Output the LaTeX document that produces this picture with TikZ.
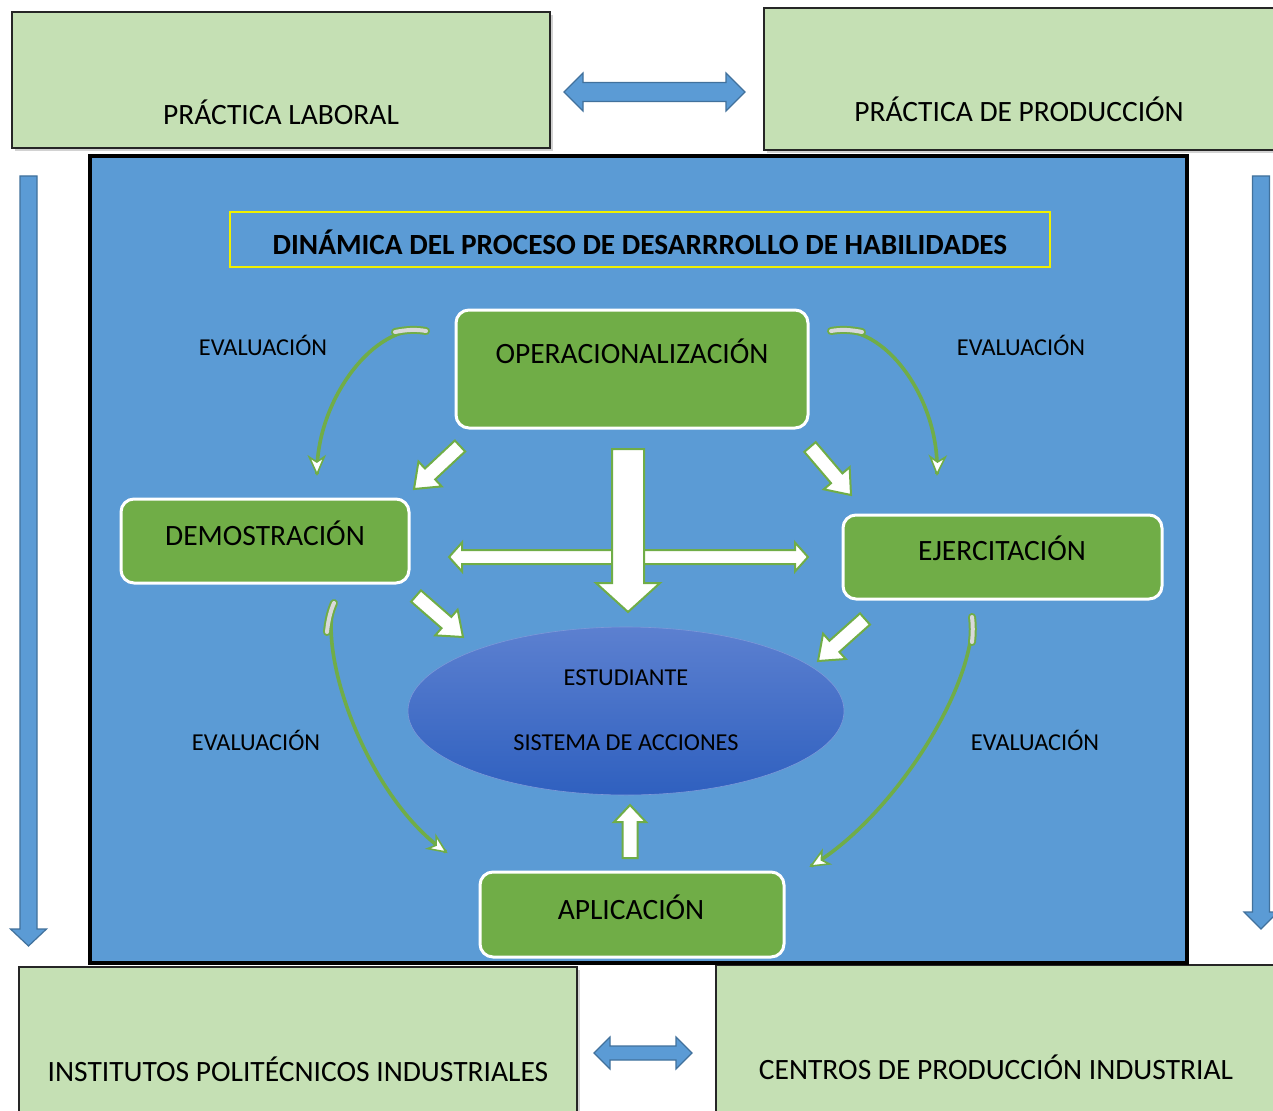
\documentclass[tikz,border=0pt]{standalone}
\usepackage{fontspec}
\setmainfont{Carlito}
\usetikzlibrary{calc,arrows.meta,shapes.geometric,shadows}
\definecolor{lgreen}{HTML}{C5E0B4}
\definecolor{mblue}{HTML}{5B9BD5}
\definecolor{dblue}{HTML}{41719C}
\definecolor{mgreen}{HTML}{70AD47}
\definecolor{ytitle}{HTML}{F0F000}
\definecolor{elltop}{HTML}{5C80D0}
\definecolor{ellbot}{HTML}{2F60BF}
\newcommand\fs[1]{\fontsize{#1}{#1}\selectfont}
\newcommand\blockarr[6]{%
 \path (#2) coordinate (ba) (#3) coordinate (bb);
 \path ($(bb)!#6!(ba)$) coordinate (bh);
 \draw[#1] ($(ba)!#4!90:(bb)$) -- ($(bh)!#4!-90:(ba)$) -- ($(bh)!#5!-90:(ba)$) -- (bb) -- ($(bh)!#5!90:(ba)$) -- ($(bh)!#4!90:(ba)$) -- ($(ba)!#4!-90:(bb)$) -- cycle;}
\newcommand\dblarr[6]{%
 \path (#2) coordinate (da) (#3) coordinate (db);
 \path ($(da)!#6!(db)$) coordinate (dha) ($(db)!#6!(da)$) coordinate (dhb);
 \draw[#1] (da) -- ($(dha)!#5!90:(db)$) -- ($(dha)!#4!90:(db)$) -- ($(dhb)!#4!-90:(da)$) -- ($(dhb)!#5!-90:(da)$) -- (db) -- ($(dhb)!#5!90:(da)$) -- ($(dhb)!#4!90:(da)$) -- ($(dha)!#4!-90:(db)$) -- ($(dha)!#5!-90:(db)$) -- cycle;}
\newcommand\curvhead[2]{%
 \path (#1) coordinate (ce) (#2) coordinate (cc);
 \path ($(ce)!17pt!(cc)$) coordinate (cb);
 \draw[fill=white, draw=mgreen, line width=1.6pt, line join=miter] (ce) -- ($(cb)!7.5pt!90:(ce)$) -- ($(cb)!5pt!(ce)$) -- ($(cb)!7.5pt!-90:(ce)$) -- cycle;}
\tikzset{
 outbox/.style={draw=black!85, line width=1.3pt, fill=lgreen, inner sep=0pt, drop shadow={shadow xshift=3pt, shadow yshift=-3pt, opacity=0.35}},
 gbox/.style={draw=white, line width=3pt, fill=mgreen, rounded corners=13pt, inner sep=0pt},
 bluearr/.style={fill=mblue, draw=dblue, line width=1.2pt, line join=miter},
 whitearr/.style={fill=white, draw=mgreen, line width=2pt, line join=miter},
 curvbody/.style={draw=mgreen, line width=3.6pt},
 curvtailout/.style={draw=mgreen, line width=8pt, line cap=round},
 curvtail/.style={draw=gray!30, line width=4pt, line cap=round},
 lbl/.style={text=black, font=\fs{29.5}, inner sep=0pt},
 evl/.style={text=black, font=\fs{24.3}, inner sep=0pt},
}
\begin{document}
\begin{tikzpicture}[x=1pt,y=-1pt]
\useasboundingbox (0,0) rectangle (1273,1110);
\fill[white] (0,0) rectangle (1273,1110);
\begin{scope}
\clip (0,0) rectangle (1273,1110);
% outer boxes
\node[outbox, minimum width=538, minimum height=136] (tl) at (281,80) {};
\node[outbox, minimum width=530, minimum height=142] (tr) at (1029,79) {};
\node[outbox, minimum width=558, minimum height=160] (bl) at (298,1047) {};
\node[outbox, minimum width=570, minimum height=162] (br) at (1001,1046) {};
\end{scope}
\node[lbl] (tlT) at (281,112) {PRÁCTICA LABORAL};
\node[lbl] (trT) at (1019,109) {PRÁCTICA DE PRODUCCIÓN};
\node[lbl] (blT) at (298,1069) {INSTITUTOS POLITÉCNICOS INDUSTRIALES};
\node[lbl] (brT) at (996,1067) {CENTROS DE PRODUCCIÓN INDUSTRIAL};
% connectors between outer boxes
\coordinate (tA) at (564,92); \coordinate (tB) at (745,92);
\dblarr{bluearr}{tA}{tB}{9.5pt}{19pt}{19pt}
\coordinate (bA) at (594,1053); \coordinate (bB) at (692,1053);
\dblarr{bluearr}{bA}{bB}{7pt}{16pt}{16pt}
\coordinate (lA) at (28.5,176); \coordinate (lB) at (28.5,946);
\blockarr{bluearr}{lA}{lB}{8.5pt}{18pt}{17pt}
\coordinate (rA) at (1261,176); \coordinate (rB) at (1261,929);
\blockarr{bluearr}{rA}{rB}{8.5pt}{17pt}{17pt}
% main panel
\node[draw=black, line width=4pt, fill=mblue, minimum width=1097, minimum height=807, inner sep=0pt] (main) at (638.5,559.5) {};
\node[draw=ytitle, line width=2pt, minimum width=820, minimum height=55, inner sep=0pt] (title) at (640,239.5) {};
\node[text=black, font=\bfseries\fs{29.3}, inner sep=0pt] (titleT) at (640,242) {DINÁMICA DEL PROCESO DE DESARRROLLO DE HABILIDADES};
% green boxes
\node[gbox, minimum width=352, minimum height=118] (oper) at (632,369) {};
\node[lbl] (operT) at (632,351) {OPERACIONALIZACIÓN};
\node[gbox, minimum width=288, minimum height=84] (demo) at (265,541) {};
\node[lbl] (demoT) at (265,533) {DEMOSTRACIÓN};
\node[gbox, minimum width=319, minimum height=84] (ejer) at (1002.5,557) {};
\node[lbl] (ejerT) at (1002,548) {EJERCITACIÓN};
\node[gbox, minimum width=304, minimum height=85] (apli) at (632,914.5) {};
\node[lbl] (apliT) at (631,907) {APLICACIÓN};
% ellipse
\node[ellipse, draw=elltop!80!white, line width=0.6pt, top color=elltop, bottom color=ellbot, minimum width=436, minimum height=168, inner sep=0pt] (est) at (626,711) {};
\node[evl] (estT) at (626,678) {ESTUDIANTE};
\node[evl] (sisT) at (626,743) {SISTEMA DE ACCIONES};
% evaluation labels
\node[evl] (ev1) at (263,345) {EVALUACIÓN};
\node[evl] (ev2) at (1021,345) {EVALUACIÓN};
\node[evl] (ev3) at (256,740) {EVALUACIÓN};
\node[evl] (ev4) at (1035,740) {EVALUACIÓN};
% curved arrows
\coordinate (c1a) at (426,331); \coordinate (c1b) at (317,474); \coordinate (c1k) at (316,400);
\draw[curvtailout] (c1a) .. controls (415,329) and (405,330) .. (395,332);
\draw[curvbody] (c1a) .. controls (375,322) and (c1k) .. (c1b);
\draw[curvtail] (c1a) .. controls (415,329) and (405,330) .. (395,332);
\curvhead{c1b}{c1k}
\coordinate (c2a) at (831,331); \coordinate (c2b) at (937,474); \coordinate (c2k) at (940,400);
\draw[curvtailout] (c2a) .. controls (842,329) and (852,330) .. (862,332);
\draw[curvbody] (c2a) .. controls (885,322) and (c2k) .. (c2b);
\draw[curvtail] (c2a) .. controls (842,329) and (852,330) .. (862,332);
\curvhead{c2b}{c2k}
\coordinate (c3a) at (334,603); \coordinate (c3b) at (446,852); \coordinate (c3k) at (370,800);
\draw[curvtailout] (c3a) .. controls (330,612) and (328,622) .. (327,632);
\draw[curvbody] (c3a) .. controls (318,660) and (c3k) .. (c3b);
\draw[curvtail] (c3a) .. controls (330,612) and (328,622) .. (327,632);
\curvhead{c3b}{c3k}
\coordinate (c4a) at (972,617); \coordinate (c4b) at (811,866); \coordinate (c4k) at (890,820);
\draw[curvtailout] (c4a) .. controls (973,625) and (973,633) .. (972,642);
\draw[curvbody] (c4a) .. controls (975,690) and (c4k) .. (c4b);
\draw[curvtail] (c4a) .. controls (973,625) and (973,633) .. (972,642);
\curvhead{c4b}{c4k}
% white block arrows
\coordinate (hA) at (449,557); \coordinate (hB) at (808,557);
\dblarr{whitearr}{hA}{hB}{7pt}{14.5pt}{13pt}
\coordinate (vA) at (628,449); \coordinate (vB) at (628,612);
\blockarr{whitearr}{vA}{vB}{16pt}{32pt}{29pt}
\coordinate (odA) at (460,446); \coordinate (odB) at (414,489);
\blockarr{whitearr}{odA}{odB}{7.5pt}{17pt}{22pt}
\coordinate (oeA) at (810,447); \coordinate (oeB) at (851,495);
\blockarr{whitearr}{oeA}{oeB}{7.5pt}{17pt}{22pt}
\coordinate (deA) at (416,596); \coordinate (deB) at (463,637);
\blockarr{whitearr}{deA}{deB}{7.5pt}{17pt}{22pt}
\coordinate (eeA) at (865,619); \coordinate (eeB) at (818,661);
\blockarr{whitearr}{eeA}{eeB}{7.5pt}{17pt}{22pt}
\coordinate (uA) at (630,858); \coordinate (uB) at (630,805);
\blockarr{whitearr}{uA}{uB}{7.5pt}{16pt}{17pt}
\end{tikzpicture}
\end{document}
